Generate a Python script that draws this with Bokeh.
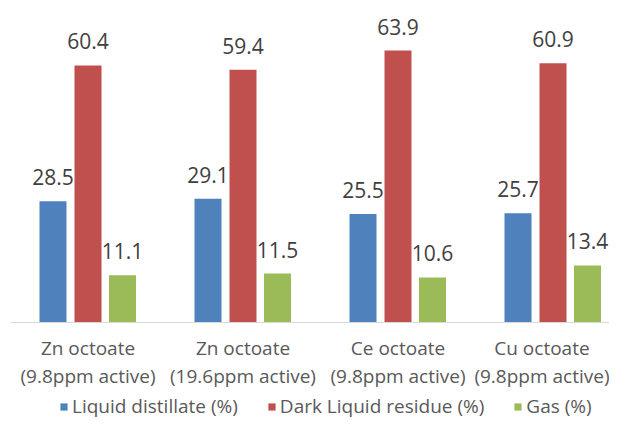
from bokeh.plotting import figure
from bokeh.models import Range1d, Legend, LegendItem, ColumnDataSource, FixedTicker
from bokeh.transform import dodge
from bokeh.embed import file_html
from bokeh.resources import INLINE
from bokeh.core.properties import value

categories = ["Zn octoate\n(9.8ppm active)", "Zn octoate\n(19.6ppm active)",
              "Ce octoate\n(9.8ppm active)", "Cu octoate\n(9.8ppm active)"]
series = ["Liquid distillate (%)", "Dark Liquid residue (%)", "Gas (%)"]
liquid_distillate = [28.5, 29.1, 25.5, 25.7]
dark_liquid_residue = [60.4, 59.4, 63.9, 60.9]
gas = [11.1, 11.5, 10.6, 13.4]
colors = ["#4F81BD", "#C0504D", "#9BBB59"]

xpos = [i + 0.5 for i in range(len(categories))]
data = dict(x=xpos)
keys = ["ld", "dr", "gas"]
for k, vals in zip(keys, [liquid_distillate, dark_liquid_residue, gas]):
    data[k] = vals
    data[k + "_lbl"] = [f"{v:.1f}" for v in vals]
src = ColumnDataSource(data)

p = figure(width=609, height=419, x_range=Range1d(0, 3.8645), y_range=Range1d(-22.8, 75.67),
           output_backend="svg", toolbar_location=None,
           min_border_left=10, min_border_right=0, min_border_top=0, min_border_bottom=0)
p.outline_line_color = None
p.xgrid.visible = False
p.ygrid.visible = False
p.yaxis.visible = False

offsets = [-0.2258, 0.0, 0.2226]
renderers = []
for k, off, c in zip(keys, offsets, colors):
    r = p.vbar(x=dodge("x", off), top=k, width=0.1742, source=src, fill_color=c, line_color=None)
    renderers.append(r)
    p.text(x=dodge("x", off), y=k, text=k + "_lbl", source=src, text_align="center",
           text_baseline="middle", y_offset=-24, text_font=value("Open Sans"),
           text_font_size="21px", text_color="#404040")

ax = p.xaxis[0]
ax.fixed_location = 0
ax.ticker = FixedTicker(ticks=xpos)
ax.major_label_overrides = {x: c for x, c in zip(xpos, categories)}
ax.axis_line_color = "#D9D9D9"
ax.axis_line_width = 1
ax.major_tick_line_color = None
ax.minor_tick_line_color = None
ax.major_label_standoff = 7
ax.major_label_text_font = "Open Sans"
ax.major_label_text_font_size = "19px"
ax.major_label_text_color = "#595959"
ax.major_label_text_line_height = 1.07

legend = Legend(items=[LegendItem(label=s, renderers=[r]) for s, r in zip(series, renderers)],
                orientation="horizontal", location=(49, 0), glyph_width=9, glyph_height=9,
                label_standoff=4, spacing=29, padding=0, margin=0,
                border_line_color=None, background_fill_alpha=0,
                label_text_font="Open Sans", label_text_font_size="19px",
                label_text_color="#595959")
p.add_layout(legend, "center")

open("out.html", "w").write(file_html(p, INLINE))
